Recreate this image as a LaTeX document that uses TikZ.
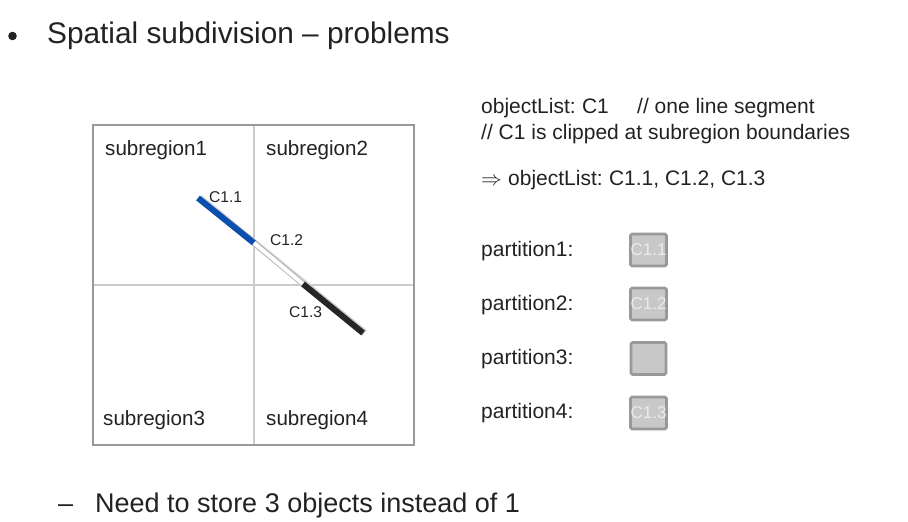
\documentclass[tikz,border=0pt]{standalone}
\usepackage{fontspec}
\setmainfont{Liberation Sans}
\newfontfamily\symfont{DejaVu Sans}
\definecolor{txt}{HTML}{222222}
\definecolor{frame}{HTML}{999999}
\definecolor{grid}{HTML}{CCCCCC}
\definecolor{segblue}{HTML}{0B4FAF}
\definecolor{segblack}{HTML}{262626}
\definecolor{boxfill}{HTML}{C8C8C8}
\tikzset{
  lbl/.style={inner sep=0pt, anchor=base west, text=txt},
  bigtxt/.style={lbl, font=\fontsize{29.8}{32}\selectfont},
  bottxt/.style={lbl, font=\fontsize{27}{30}\selectfont},
  midtxt/.style={lbl, font=\fontsize{21}{24}\selectfont},
  regtxt/.style={lbl, font=\fontsize{20.6}{24}\selectfont},
  smalltxt/.style={lbl, font=\fontsize{15.6}{18}\selectfont},
  partbox/.style={draw=frame, line width=2.8pt, fill=boxfill, rounded corners=1.5pt,
    minimum width=35pt, minimum height=32pt, inner sep=0pt, text=white!92!black,
    font=\fontsize{17}{18}\selectfont},
}
\begin{document}
\begin{tikzpicture}[x=1pt,y=-1pt]
\useasboundingbox (0,0) rectangle (908,522);
% title
\fill[txt] (12.5,36) circle (4.3pt);
\node[bigtxt] (title) at (47,43) {Spatial subdivision – problems};
% bottom
\node[bottxt] (dash) at (58,512) {–};
\node[bottxt] (bottom) at (95,512) {Need to store 3 objects instead of 1};
% grid
\draw[grid, line width=1.2pt] (254,125) -- (254,445);
\draw[grid, line width=1.2pt] (93,285) -- (414,285);
\draw[frame, line width=2.6pt] (93,125) rectangle (414,445);
\node[regtxt] (s1) at (105,155) {subregion1};
\node[regtxt] (s2) at (266,155) {subregion2};
\node[regtxt] (s3) at (103,425) {subregion3};
\node[regtxt] (s4) at (266,425) {subregion4};
% segment
\coordinate (p0) at (198,198);
\coordinate (p1) at (254,243);
\coordinate (p2) at (303,284);
\coordinate (p3) at (363,333);
\draw[grid, line width=7pt] ([shift={(1.5,0)}]p0) -- ([shift={(1.5,0)}]p3);
\draw[segblue, line width=6pt] (p0) -- (p1);
\draw[frame!70, line width=5.5pt] (p1) -- (p2);
\draw[white, line width=3.8pt] (p1) -- (p2);
\draw[segblack, line width=6pt] (p2) -- (p3);
\node[smalltxt] (c11) at (209,202) {C1.1};
\node[smalltxt] (c12) at (270,245) {C1.2};
\node[smalltxt] (c13) at (289,317) {C1.3};
% right texts
\node[midtxt] (t1) at (481,113) {objectList:\kern-1.5pt{} C1};
\node[midtxt] (t1b) at (637,113) {// one line segment};
\node[midtxt] (t2) at (481,139) {// C1 is clipped at subregion boundaries};
\node[midtxt] (arr) at (481,185) {$\Rightarrow$};
\node[midtxt] (t3) at (508,185) {objectList:\kern-1.5pt{} C1.1, C1.2, C1.3};
\node[midtxt] (pa1) at (481,256) {partition1:};
\node[midtxt] (pa2) at (481,310) {partition2:};
\node[midtxt] (pa3) at (481,364) {partition3:};
\node[midtxt] (pa4) at (481,418) {partition4:};
\node[partbox] (b1) at (648.5,250) {C1.1};
\node[partbox] (b2) at (648.5,304) {C1.2};
\node[partbox] (b3) at (648.5,358.5) {};
\node[partbox] (b4) at (648.5,413) {C1.3};
\end{tikzpicture}
\end{document}
